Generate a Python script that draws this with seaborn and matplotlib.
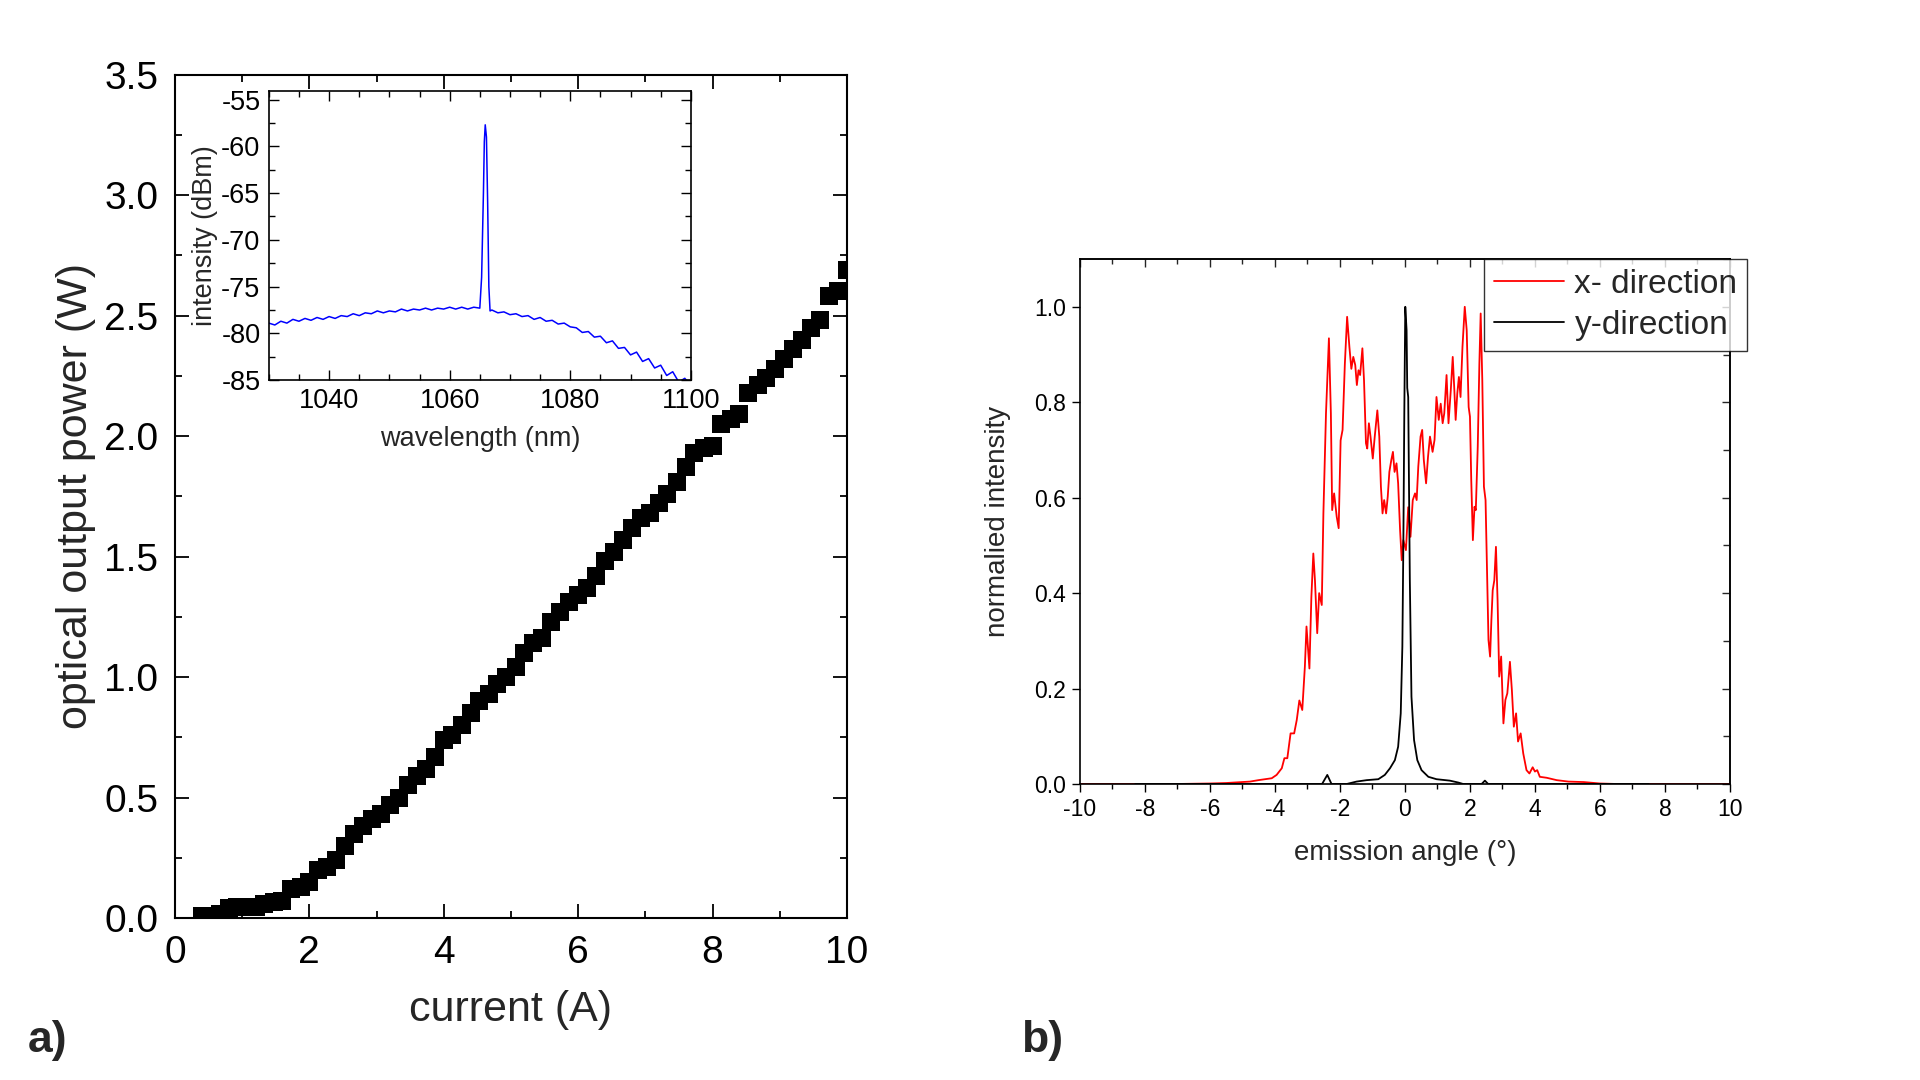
import numpy as np
import pandas as pd
import matplotlib
matplotlib.use("Agg")
import matplotlib.pyplot as plt
from matplotlib.ticker import MultipleLocator
import seaborn as sns

# ------------------------
#  data
# ------------------------

# a) output power vs current
current_A = [0.40, 0.53, 0.67, 0.80, 0.93, 1.07, 1.20, 1.33, 1.47, 1.60,
             1.73, 1.87, 2.00, 2.13, 2.27, 2.40, 2.53, 2.67, 2.80, 2.93,
             3.07, 3.20, 3.33, 3.47, 3.60, 3.73, 3.87, 4.00, 4.13, 4.27,
             4.40, 4.53, 4.67, 4.80, 4.93, 5.07, 5.20, 5.33, 5.47, 5.60,
             5.73, 5.87, 6.00, 6.13, 6.27, 6.40, 6.53, 6.67, 6.80, 6.93,
             7.07, 7.20, 7.33, 7.47, 7.60, 7.73, 7.87, 8.00, 8.13, 8.27,
             8.40, 8.53, 8.67, 8.80, 8.93, 9.07, 9.20, 9.33, 9.47, 9.60,
             9.73, 9.87, 10.00]
power_W = [0.01, 0.01, 0.015, 0.04, 0.045, 0.045, 0.045, 0.06, 0.065, 0.07,
           0.12, 0.13, 0.15, 0.20, 0.21, 0.24, 0.30, 0.35, 0.38, 0.41,
           0.43, 0.47, 0.50, 0.55, 0.59, 0.62, 0.67, 0.74, 0.76, 0.80,
           0.85, 0.90, 0.93, 0.97, 1.00, 1.04, 1.10, 1.14, 1.16, 1.23,
           1.27, 1.31, 1.34, 1.37, 1.42, 1.48, 1.52, 1.57, 1.62, 1.66,
           1.68, 1.72, 1.76, 1.81, 1.87, 1.93, 1.95, 1.96, 2.05, 2.07,
           2.09, 2.18, 2.21, 2.24, 2.28, 2.32, 2.36, 2.40, 2.45, 2.48,
           2.58, 2.60, 2.69]

# inset: spectrum
wavelength_nm = [1030, 1031, 1032, 1033, 1034, 1035, 1036, 1037, 1038, 1039,
                 1040, 1041, 1042, 1043, 1044, 1045, 1046, 1047, 1048, 1049,
                 1050, 1051, 1052, 1053, 1054, 1055, 1056, 1057, 1058, 1059,
                 1060, 1061, 1062, 1063, 1064, 1065,
                 1065.3, 1065.6, 1065.75, 1065.9, 1066.1, 1066.3, 1066.5, 1066.7,
                 1067, 1068, 1069, 1070, 1071, 1072, 1073, 1074, 1075, 1076,
                 1077, 1078, 1079, 1080, 1081, 1082, 1083, 1084, 1085, 1086,
                 1087, 1088, 1089, 1090, 1091, 1092, 1093, 1094, 1095, 1096,
                 1097, 1098, 1099, 1100]
intensity_dBm = [-78.9, -79.1, -78.7, -78.9, -78.5, -78.7, -78.4, -78.6, -78.3, -78.5,
                 -78.2, -78.4, -78.1, -78.2, -77.9, -78.1, -77.8, -77.9, -77.6, -77.8,
                 -77.6, -77.7, -77.4, -77.6, -77.4, -77.5, -77.3, -77.5, -77.3, -77.4,
                 -77.2, -77.4, -77.2, -77.4, -77.2, -77.3,
                 -74.0, -65.0, -59.5, -57.7, -59.0, -66.0, -75.0, -77.6,
                 -77.5, -77.8, -77.7, -78.0, -77.9, -78.2, -78.1, -78.5, -78.3, -78.7,
                 -78.6, -79.0, -78.9, -79.3, -79.4, -79.9, -79.8, -80.4, -80.3, -81.0,
                 -80.8, -81.6, -81.5, -82.3, -82.0, -83.0, -82.7, -83.7, -83.4, -84.5,
                 -84.1, -85.2, -84.8, -85.6]

# b) far field, x- direction
angle_x = [-10.0, -7.0, -6.0, -5.5, -5.0, -4.77, -4.51, -4.10, -3.95, -3.79,
           -3.71, -3.62, -3.52, -3.41, -3.33, -3.25, -3.16, -3.08, -3.03, -2.94,
           -2.88, -2.82, -2.77, -2.70, -2.64, -2.56, -2.51, -2.43, -2.34, -2.28,
           -2.24, -2.18, -2.10, -2.04, -1.98, -1.92, -1.85, -1.78, -1.71, -1.65,
           -1.59, -1.53, -1.48, -1.43, -1.38, -1.31, -1.26, -1.20, -1.16, -1.11,
           -1.06, -0.99, -0.93, -0.85, -0.79, -0.74, -0.69, -0.64, -0.58, -0.53,
           -0.48, -0.42, -0.37, -0.32, -0.26, -0.21, -0.15, -0.10, -0.05, 0.03,
           0.10, 0.17, 0.24, 0.31, 0.36, 0.41, 0.48, 0.53, 0.58, 0.65,
           0.71, 0.77, 0.85, 0.91, 0.97, 1.04, 1.10, 1.16, 1.21, 1.28,
           1.34, 1.41, 1.47, 1.52, 1.56, 1.61, 1.66, 1.71, 1.77, 1.84,
           1.90, 1.96, 2.00, 2.04, 2.09, 2.14, 2.18, 2.24, 2.29, 2.33,
           2.38, 2.43, 2.48, 2.53, 2.57, 2.62, 2.66, 2.70, 2.75, 2.80,
           2.85, 2.90, 2.96, 3.03, 3.09, 3.15, 3.23, 3.29, 3.35, 3.42,
           3.48, 3.56, 3.64, 3.74, 3.83, 3.93, 4.00, 4.07, 4.15, 4.36,
           4.67, 5.03, 5.50, 6.00, 6.50, 10.0]
intens_x = [0.0, 0.0, 0.001, 0.002, 0.004, 0.005, 0.008, 0.012, 0.019, 0.033,
            0.054, 0.054, 0.106, 0.106, 0.134, 0.175, 0.155, 0.246, 0.330, 0.242,
            0.392, 0.483, 0.427, 0.316, 0.400, 0.375, 0.567, 0.777, 0.934, 0.777,
            0.574, 0.609, 0.560, 0.536, 0.720, 0.742, 0.880, 0.979, 0.916, 0.870,
            0.895, 0.878, 0.836, 0.867, 0.857, 0.913, 0.846, 0.714, 0.703, 0.756,
            0.728, 0.682, 0.728, 0.783, 0.728, 0.623, 0.567, 0.595, 0.567, 0.602,
            0.654, 0.679, 0.696, 0.654, 0.672, 0.630, 0.532, 0.469, 0.511, 0.490,
            0.580, 0.518, 0.595, 0.609, 0.595, 0.665, 0.728, 0.742, 0.679, 0.630,
            0.686, 0.728, 0.696, 0.721, 0.811, 0.763, 0.797, 0.756, 0.777, 0.857,
            0.756, 0.825, 0.895, 0.825, 0.763, 0.818, 0.853, 0.811, 0.916, 1.000,
            0.951, 0.790, 0.770, 0.637, 0.511, 0.581, 0.574, 0.707, 0.881, 0.986,
            0.846, 0.623, 0.595, 0.427, 0.302, 0.267, 0.344, 0.406, 0.427, 0.497,
            0.385, 0.225, 0.267, 0.127, 0.176, 0.190, 0.256, 0.197, 0.120, 0.148,
            0.089, 0.106, 0.064, 0.029, 0.022, 0.035, 0.026, 0.029, 0.015, 0.013,
            0.008, 0.005, 0.004, 0.001, 0.0, 0.0]

# b) far field, y-direction
angle_y = [-8.3, -2.55, -2.39, -2.26, -1.79, -1.49, -1.18, -0.82, -0.62, -0.46,
           -0.31, -0.21, -0.13, -0.08, -0.05, -0.02, 0.01, 0.05, 0.07, 0.10,
           0.15, 0.20, 0.28, 0.38, 0.51, 0.72, 0.97, 1.38, 1.64, 1.79,
           2.36, 2.46, 2.56, 7.5]
intens_y = [0.0, 0.0, 0.019, 0.0, 0.0, 0.005, 0.008, 0.010, 0.019, 0.033,
            0.050, 0.078, 0.148, 0.288, 0.500, 0.777, 1.000, 0.951, 0.830, 0.811,
            0.427, 0.183, 0.092, 0.050, 0.029, 0.015, 0.010, 0.007, 0.003, 0.0,
            0.0, 0.007, 0.0, 0.0]

# ------------------------
#  figure
# ------------------------
sns.set_theme(style="ticks")
plt.rcParams["font.family"] = ["Liberation Sans", "DejaVu Sans"]
plt.rcParams["axes.unicode_minus"] = False

fig = plt.figure(figsize=(19.2, 10.8), dpi=100)

# ---- panel a ----
ax1 = fig.add_axes([0.0911, 0.150, 0.350, 0.781])
lic = pd.DataFrame({"current": current_A, "power": power_W})
sns.scatterplot(data=lic, x="current", y="power", marker="s", s=160,
                color="black", linewidth=0, ax=ax1)
ax1.set_xlim(0, 10)
ax1.set_ylim(0, 3.5)
ax1.xaxis.set_major_locator(MultipleLocator(2))
ax1.xaxis.set_minor_locator(MultipleLocator(1))
ax1.yaxis.set_major_locator(MultipleLocator(0.5))
ax1.yaxis.set_minor_locator(MultipleLocator(0.25))
ax1.yaxis.set_major_formatter(matplotlib.ticker.FormatStrFormatter("%.1f"))
ax1.tick_params(which="both", direction="in", top=True, right=True,
                width=1.3, labelsize=28, pad=12, colors="black")
ax1.tick_params(which="major", length=10)
ax1.tick_params(which="minor", length=5)
for sp in ax1.spines.values():
    sp.set_visible(True)
    sp.set_linewidth(1.5)
    sp.set_color("black")
ax1.set_xlabel("current (A)", fontsize=31, labelpad=14)
ax1.set_ylabel("optical output power (W)", fontsize=31, labelpad=6)

# inset spectrum
ins = fig.add_axes([0.140, 0.648, 0.2198, 0.2676])
spec = pd.DataFrame({"wl": wavelength_nm, "dbm": intensity_dBm})
sns.lineplot(data=spec, x="wl", y="dbm", color="#0000FF", linewidth=1.1,
             estimator=None, sort=False, ax=ins)
ins.set_xlim(1030, 1100)
ins.set_ylim(-85, -54.1)
ins.xaxis.set_major_locator(MultipleLocator(20))
ins.xaxis.set_minor_locator(MultipleLocator(5))
ins.yaxis.set_major_locator(MultipleLocator(5))
ins.yaxis.set_minor_locator(MultipleLocator(2.5))
ins.tick_params(which="both", direction="in", top=True, right=True,
                width=1.0, labelsize=19.5, pad=6, colors="black")
ins.tick_params(which="major", length=7)
ins.tick_params(which="minor", length=4)
for sp in ins.spines.values():
    sp.set_visible(True)
    sp.set_linewidth(1.2)
    sp.set_color("black")
ins.set_xlabel("wavelength (nm)", fontsize=19.5, labelpad=8)
ins.set_ylabel("intensity (dBm)", fontsize=19.5, labelpad=2)

# ---- panel b ----
ax2 = fig.add_axes([0.5625, 0.2741, 0.3385, 0.486])
ff_x = pd.DataFrame({"angle": angle_x, "intensity": intens_x})
ff_y = pd.DataFrame({"angle": angle_y, "intensity": intens_y})
sns.lineplot(data=ff_x, x="angle", y="intensity", color="#FF0000", linewidth=1.3,
             estimator=None, sort=False, label="x- direction", ax=ax2)
sns.lineplot(data=ff_y, x="angle", y="intensity", color="black", linewidth=1.3,
             estimator=None, sort=False, label="y-direction", ax=ax2)
ax2.set_xlim(-10, 10)
ax2.set_ylim(0, 1.1)
ax2.xaxis.set_major_locator(MultipleLocator(2))
ax2.xaxis.set_minor_locator(MultipleLocator(1))
ax2.yaxis.set_major_locator(MultipleLocator(0.2))
ax2.yaxis.set_major_formatter(matplotlib.ticker.FormatStrFormatter("%.1f"))
ax2.tick_params(which="both", direction="out", width=1.0, labelsize=16.5,
                pad=4, colors="black")
ax2.tick_params(which="major", length=6)
ax2.tick_params(which="minor", length=3.5)
for sp in ax2.spines.values():
    sp.set_visible(True)
    sp.set_linewidth(1.2)
    sp.set_color("black")

top = ax2.secondary_xaxis("top")
top.xaxis.set_major_locator(MultipleLocator(2))
top.xaxis.set_minor_locator(MultipleLocator(1))
top.tick_params(which="both", direction="in", labeltop=False, width=1.0)
top.tick_params(which="major", length=6)
top.tick_params(which="minor", length=3.5)
right = ax2.secondary_yaxis("right")
right.yaxis.set_major_locator(MultipleLocator(0.2))
right.yaxis.set_minor_locator(MultipleLocator(0.1))
right.tick_params(which="both", direction="in", labelright=False, width=1.0)
right.tick_params(which="major", length=6)
right.tick_params(which="minor", length=5)

ax2.set_xlabel("emission angle (°)", fontsize=20, labelpad=14)
ax2.set_ylabel("normalied intensity", fontsize=20, labelpad=17)

leg = ax2.legend(loc="upper right", bbox_to_anchor=(1.027, 1.0), borderaxespad=0,
                 fontsize=24, frameon=True, fancybox=False, edgecolor="black",
                 handlelength=2.1, handletextpad=0.3, borderpad=0.3,
                 labelspacing=0.3)
leg.get_frame().set_linewidth(1.0)

fig.text(0.025, 0.037, "a)", fontsize=32, fontweight="bold", ha="center", va="center")
fig.text(0.543, 0.037, "b)", fontsize=32, fontweight="bold", ha="center", va="center")

fig.savefig("out.png", dpi=100)
